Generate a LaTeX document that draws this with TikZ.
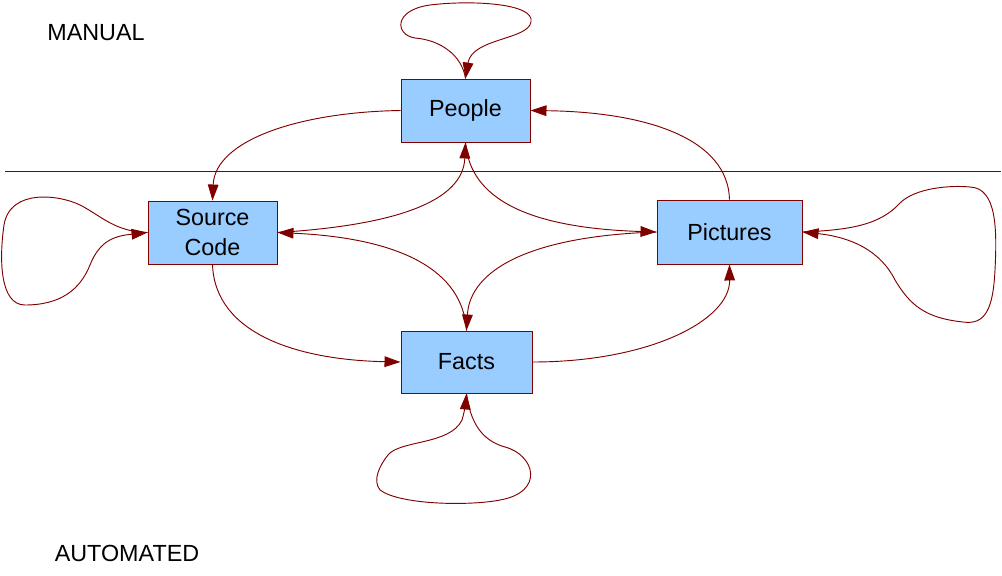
\documentclass[tikz,border=0pt]{standalone}
\usepackage{fontspec}
\setmainfont{Liberation Sans}
\usetikzlibrary{arrows.meta}
\definecolor{wire}{HTML}{800000}
\definecolor{boxfill}{HTML}{99CCFF}

\begin{document}
\begin{tikzpicture}[x=0.75pt, y=-0.75pt, every node/.style={font=\fontsize{17.5}{22}\selectfont},
		box/.style={draw=wire, fill=boxfill, line width=0.7pt, inner sep=0pt, align=center},
		flow/.style={draw=wire, line width=0.7pt, -{Triangle[length=12pt,width=8pt]}}]
			\useasboundingbox (0,0) rectangle (1002,575);

			% Levels
			\node (manual) at (96,33) {MANUAL};
			\node (automated) at (127,553) {AUTOMATED};
			\coordinate (divL) at (5,171);
			\coordinate (divR) at (1001,171);
			\draw[wire, line width=0.7pt] (divL) -- (divR);

			% Boxes
			\node[box, minimum width=96.75pt, minimum height=47.25pt] (people) at (465.5,110.5) {People};
			\node[box, minimum width=96.75pt, minimum height=47.25pt] (code) at (212.5,232.5) {Source\\Code};
			\node[box, minimum width=108.75pt, minimum height=48pt] (pictures) at (729.5,232) {Pictures};
			\node[box, minimum width=98.25pt, minimum height=46.5pt] (facts) at (466.5,362) {Facts};

			% Self loops
			\draw[flow] (people.north) .. controls (462,55) and (440,40) .. (415,38) .. controls (395,35) and (393,10) .. (430,5) .. controls (470,0) and (535,3) .. (531,22) .. controls (528,40) and (472,38) .. (people.north);
			\draw[flow] (code.west) .. controls (115,232) and (100,215) .. (80,205) .. controls (60,195) and (10,188) .. (4,225) .. controls (-1,260) and (0,305) .. (25,305) .. controls (60,305) and (80,290) .. (90,265) .. controls (100,240) and (115,236) .. (code.west);
			\draw[flow] (pictures.east) .. controls (850,230) and (880,225) .. (900,203) .. controls (915,188) and (950,185) .. (970,187) .. controls (997,188) and (997,230) .. (995,270) .. controls (993,310) and (985,325) .. (963,322) .. controls (925,318) and (910,305) .. (895,280) .. controls (880,250) and (850,237) .. (pictures.east);
			\draw[flow] (facts.south) .. controls (470,420) and (480,440) .. (505,447) .. controls (535,455) and (545,492) .. (500,500) .. controls (470,506) and (400,505) .. (380,490) .. controls (372,480) and (380,465) .. (388,455) .. controls (400,440) and (450,445) .. (462,420) .. controls (465,410) and (466,400) .. (facts.south);

			% Links
			\draw[flow] (people.west) .. controls (300,112) and (215,140) .. (code.north);
			\draw[flow] (pictures.north) .. controls (728,140) and (650,112) .. (people.east);
			\draw[flow] (code.east) .. controls (400,225) and (463,200) .. (people.south);
			\draw[flow] (people.south) .. controls (470,200) and (530,228) .. (pictures.west);
			\draw[flow] (pictures.west) .. controls (530,236) and (470,270) .. (facts.north);
			\draw[flow] (facts.north) .. controls (463,270) and (400,238) .. (code.east);
			\draw[flow] (code.south) .. controls (215,335) and (300,360) .. (facts.west);
			\draw[flow] (facts.east) .. controls (650,362) and (730,320) .. (pictures.south);
		\end{tikzpicture}
\end{document}
